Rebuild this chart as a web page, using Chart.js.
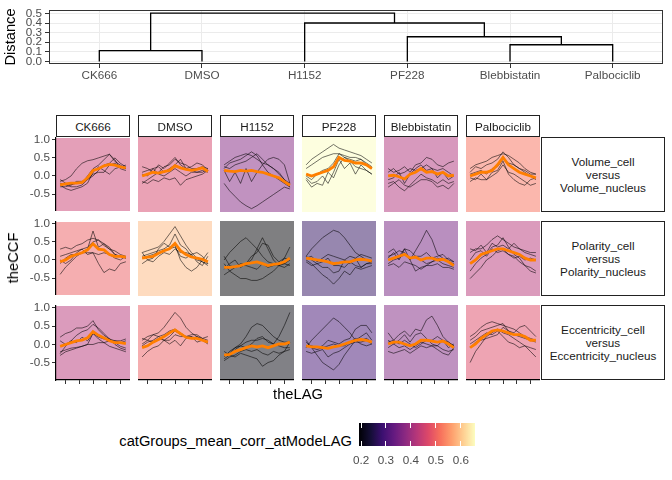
<!DOCTYPE html>
<html>
<head>
<meta charset="utf-8">
<script src="https://cdn.jsdelivr.net/npm/chart.js@4.4.1/dist/chart.umd.min.js"></script>
<style>
  body { margin: 0; background: #fff; }
  #wrap { position: relative; width: 672px; height: 480px; overflow: hidden; background: #fff;
          font-family: "Liberation Sans", Arial, sans-serif; }
  #wrap canvas { position: absolute; }
  .txt { position: absolute; white-space: nowrap; }
  .strip { position: absolute; box-sizing: border-box; border: 1.5px solid #222; background: #fff;
           display: flex; align-items: center; justify-content: center; text-align: center;
           font-size: 11.7px; color: #1a1a1a; line-height: 13px; }
</style>
</head>
<body>
<div id="wrap"></div>
<script>
// ---- data ----
const drugs = ['CK666', 'DMSO', 'H1152', 'PF228', 'Blebbistatin', 'Palbociclib'];
const pairLabels = ['Volume_cell\nversus\nVolume_nucleus', 'Polarity_cell\nversus\nPolarity_nucleus', 'Eccentricity_cell\nversus\nEccentricity_nucleus'];
const lags = [-12, -10, -8, -6, -4, -2, 0, 2, 4, 6, 8, 10, 12];
const yTicks = [-0.5, 0, 0.5, 1.0];
const xTicks = [-10, -5, 0, 5, 10];

// dendrogram (hclust style merges, negative = leaf)
const mergePairs = [[-1, -2], [-5, -6], [-4, 2], [-3, 3], [1, 4]];
const mergeHeights = [0.113, 0.174, 0.257, 0.40, 0.503];
const distTicks = [0, 0.1, 0.2, 0.3, 0.4, 0.5];

// mean corr at mode lag, per drug
const corrVolume = [0.448, 0.462, 0.369, 0.657, 0.416, 0.518];
const corrPolarity = [0.495, 0.587, 0.193, 0.272, 0.35, 0.425];
const corrEccentricity = [0.425, 0.495, 0.202, 0.295, 0.365, 0.471];
const corrMin = 0.193, corrMax = 0.657;
const legendTicks = [0.2, 0.3, 0.4, 0.5, 0.6];

// group mean CCF (orange)
const meanVolume = [
  [-0.25, -0.22, -0.2, -0.2, -0.18, -0.05, 0.15, 0.2, 0.28, 0.32, 0.3, 0.25, 0.22],
  [0.0, 0.05, 0.1, 0.08, 0.12, 0.15, 0.28, 0.22, 0.18, 0.15, 0.18, 0.22, 0.12],
  [0.15, 0.13, 0.12, 0.15, 0.13, 0.15, 0.12, 0.1, 0.05, 0.0, -0.05, -0.15, -0.25],
  [0.05, 0.0, 0.05, 0.1, 0.15, 0.25, 0.5, 0.42, 0.4, 0.35, 0.35, 0.3, 0.2],
  [0.0, 0.02, -0.02, -0.08, 0.05, 0.1, 0.2, 0.1, 0.12, 0.05, 0.1, 0.0, 0.02],
  [0.0, 0.05, 0.1, 0.1, 0.15, 0.3, 0.5, 0.3, 0.2, 0.1, 0.05, 0.0, -0.05]
];
const meanPolarity = [
  [-0.05, 0.0, 0.1, 0.15, 0.2, 0.28, 0.45, 0.3, 0.28, 0.15, 0.1, 0.1, 0.08],
  [0.05, 0.08, 0.1, 0.18, 0.25, 0.3, 0.45, 0.25, 0.15, 0.08, 0.05, 0.02, -0.05],
  [-0.2, -0.2, -0.18, -0.15, -0.1, -0.08, -0.05, -0.1, -0.15, -0.12, -0.1, -0.05, 0.05],
  [0.05, 0.03, 0.0, -0.02, -0.05, -0.1, -0.08, -0.05, -0.05, 0.0, 0.02, 0.0, -0.03],
  [0.0, 0.05, 0.1, 0.15, 0.05, 0.08, 0.0, 0.05, 0.05, 0.0, 0.02, -0.05, -0.15],
  [-0.1, 0.0, 0.15, 0.2, 0.25, 0.3, 0.3, 0.25, 0.2, 0.15, 0.05, 0.0, 0.0]
];
const meanEccentricity = [
  [-0.05, 0.0, 0.05, 0.1, 0.12, 0.18, 0.35, 0.25, 0.18, 0.1, 0.05, 0.05, 0.02],
  [-0.1, -0.05, 0.05, 0.12, 0.2, 0.3, 0.38, 0.28, 0.18, 0.15, 0.15, 0.1, 0.05],
  [-0.3, -0.28, -0.2, -0.15, -0.1, -0.05, -0.08, -0.05, -0.1, -0.05, 0.0, 0.0, 0.05],
  [-0.05, -0.08, -0.08, -0.1, -0.12, -0.08, -0.05, 0.0, 0.05, 0.1, 0.12, 0.1, 0.05],
  [0.0, 0.05, 0.05, 0.0, -0.05, 0.0, 0.1, 0.1, 0.08, 0.05, 0.08, 0.0, -0.1],
  [-0.1, 0.0, 0.15, 0.25, 0.35, 0.38, 0.35, 0.3, 0.25, 0.25, 0.2, 0.1, 0.1]
];

// single cell CCF traces (black)
const tracesVolume = [
  [[-0.15, -0.1, 0.0, 0.2, 0.35, 0.42, 0.45, 0.5, 0.55, 0.6, 0.4, 0.3, 0.2],
   [-0.3, -0.3, -0.25, -0.2, -0.2, 0.0, 0.2, 0.3, 0.45, 0.6, 0.45, 0.2, 0.15],
   [-0.2, -0.25, -0.3, -0.3, -0.25, -0.1, 0.05, 0.1, 0.1, 0.3, 0.35, 0.25, 0.2],
   [-0.25, -0.35, -0.4, -0.35, -0.3, -0.2, 0.1, 0.25, 0.15, 0.05, 0.2, 0.25, 0.3],
   [-0.1, -0.2, -0.25, -0.15, -0.15, -0.1, 0.0, 0.15, 0.3, 0.35, 0.5, 0.35, 0.25]],
  [[0.25, 0.2, 0.1, 0.3, 0.2, 0.35, 0.5, 0.3, 0.2, 0.25, 0.35, 0.3, 0.15],
   [-0.2, -0.1, 0.0, 0.1, 0.25, 0.3, 0.45, 0.35, 0.3, 0.2, 0.2, 0.25, 0.2],
   [0.1, 0.15, 0.2, 0.05, 0.0, 0.1, 0.2, 0.1, 0.0, 0.1, 0.1, 0.15, 0.1],
   [-0.15, -0.2, -0.1, -0.15, -0.05, -0.1, -0.05, -0.25, -0.1, -0.05, 0.0, 0.05, 0.15],
   [0.05, 0.0, 0.2, 0.25, 0.1, 0.2, 0.3, 0.45, 0.2, 0.15, 0.1, 0.1, 0.2]],
  [[0.3, 0.4, 0.5, 0.55, 0.6, 0.55, 0.45, 0.35, 0.3, 0.2, 0.1, -0.1, -0.3],
   [0.2, 0.35, 0.4, 0.45, 0.55, 0.65, 0.55, 0.3, 0.1, 0.0, -0.1, -0.2, -0.3],
   [0.15, -0.15, 0.1, -0.2, 0.2, -0.15, 0.1, 0.3, 0.45, 0.5, 0.45, 0.3, -0.2],
   [-0.2, -0.4, -0.55, -0.7, -0.8, -0.88, -0.8, -0.7, -0.6, -0.5, -0.4, -0.3, -0.35],
   [0.25, 0.2, 0.3, 0.35, 0.4, 0.5, 0.6, 0.45, 0.3, 0.2, 0.05, -0.1, -0.2]],
  [[0.3, 0.45, 0.55, 0.65, 0.75, 0.85, 0.75, 0.7, 0.65, 0.6, 0.55, 0.45, 0.35],
   [0.2, 0.3, 0.4, 0.5, 0.55, 0.6, 0.6, 0.55, 0.5, 0.5, 0.45, 0.35, 0.25],
   [-0.05, -0.2, -0.15, 0.0, -0.2, 0.1, 0.45, 0.2, 0.35, 0.05, 0.3, 0.15, 0.05],
   [-0.1, -0.3, -0.2, -0.25, 0.1, -0.05, 0.3, 0.5, 0.4, 0.25, 0.2, 0.15, 0.05],
   [0.0, -0.1, 0.05, 0.15, 0.2, 0.35, 0.6, 0.5, 0.45, 0.4, 0.45, 0.3, 0.2]],
  [[0.2, 0.1, 0.15, 0.25, 0.1, 0.3, 0.35, 0.5, 0.45, 0.3, 0.25, 0.35, 0.4],
   [-0.1, -0.05, 0.1, -0.2, 0.05, 0.2, 0.3, 0.15, 0.2, -0.05, 0.1, -0.1, 0.0],
   [-0.2, -0.15, -0.3, -0.4, -0.25, -0.1, 0.05, -0.05, -0.1, -0.2, -0.1, -0.2, -0.15],
   [0.1, 0.2, 0.05, 0.1, 0.2, 0.15, 0.2, 0.3, 0.2, 0.15, 0.2, 0.1, 0.0],
   [-0.3, -0.2, -0.1, -0.25, -0.3, -0.2, -0.1, -0.1, -0.15, -0.3, -0.25, -0.35, -0.2]],
  [[0.2, 0.3, 0.35, 0.4, 0.5, 0.55, 0.6, 0.55, 0.45, 0.35, 0.2, 0.1, 0.05],
   [0.1, 0.25, 0.2, 0.3, 0.35, 0.45, 0.65, 0.5, 0.3, 0.2, 0.1, 0.0, -0.1],
   [-0.15, -0.05, -0.1, -0.1, 0.0, 0.1, 0.3, 0.1, 0.05, -0.05, -0.15, -0.25, -0.2],
   [-0.05, -0.1, 0.05, -0.1, 0.1, 0.15, 0.4, 0.05, -0.1, -0.2, -0.25, -0.1, -0.05],
   [0.05, 0.1, 0.15, 0.05, 0.2, 0.25, 0.45, 0.35, 0.3, 0.2, 0.15, 0.05, 0.05]]
];
const tracesPolarity = [
  [[0.3, 0.35, 0.3, 0.4, 0.45, 0.55, 0.6, 0.55, 0.4, 0.3, 0.25, 0.15, 0.1],
   [-0.4, -0.2, -0.05, 0.1, 0.2, 0.3, 0.8, 0.35, 0.45, 0.3, 0.15, 0.1, 0.05],
   [0.0, -0.1, 0.0, 0.2, 0.3, 0.15, 0.2, -0.1, -0.35, -0.25, -0.3, -0.1, -0.05],
   [0.1, 0.15, 0.2, 0.25, 0.3, 0.35, 0.5, 0.55, 0.45, 0.35, 0.15, 0.1, 0.05],
   [-0.1, 0.05, 0.15, 0.15, 0.2, 0.2, 0.2, 0.15, 0.2, 0.15, 0.05, 0.0, 0.1]],
  [[0.2, 0.25, 0.3, 0.35, 0.5, 0.7, 0.9, 0.65, 0.4, 0.2, 0.05, -0.05, -0.15],
   [0.1, 0.15, 0.2, 0.25, 0.3, 0.4, 0.7, 0.4, 0.3, 0.1, 0.0, -0.05, -0.1],
   [0.2, 0.0, 0.05, 0.3, 0.45, 0.35, 0.4, 0.0, -0.2, -0.3, -0.2, 0.0, 0.2],
   [0.05, 0.1, 0.15, 0.2, 0.25, 0.3, 0.35, 0.1, 0.05, 0.15, -0.05, -0.15, 0.1],
   [-0.1, 0.0, -0.05, 0.1, 0.2, 0.15, 0.3, 0.2, 0.2, 0.15, 0.2, 0.1, -0.1]],
  [[0.0, 0.2, 0.35, 0.5, 0.6, 0.45, 0.3, 0.1, -0.05, -0.1, -0.15, -0.2, -0.1],
   [-0.1, -0.3, -0.4, -0.5, -0.5, -0.55, -0.55, -0.5, -0.4, -0.3, -0.15, 0.05, 0.35],
   [-0.25, -0.1, 0.0, -0.2, -0.1, 0.1, 0.2, 0.45, 0.4, 0.1, -0.05, 0.05, 0.0],
   [-0.4, -0.3, -0.2, -0.1, -0.1, 0.0, 0.3, 0.6, 0.3, 0.0, -0.15, -0.1, -0.15],
   [0.1, -0.15, -0.2, -0.15, -0.15, -0.2, -0.25, -0.1, -0.2, -0.15, -0.1, -0.1, 0.0]],
  [[0.1, 0.3, 0.45, 0.6, 0.7, 0.8, 0.75, 0.6, 0.4, 0.2, 0.1, 0.0, -0.05],
   [0.0, -0.1, -0.25, -0.4, -0.5, -0.65, -0.5, -0.3, -0.4, -0.2, -0.25, -0.2, -0.15],
   [0.1, 0.0, -0.1, -0.2, -0.2, -0.35, -0.3, 0.0, -0.1, 0.05, -0.2, -0.1, -0.05],
   [-0.05, -0.15, -0.1, -0.05, 0.05, -0.15, -0.15, -0.2, -0.05, -0.15, -0.2, -0.1, -0.1],
   [0.05, 0.1, -0.05, 0.05, 0.15, 0.1, 0.05, 0.0, 0.1, 0.05, 0.15, 0.1, 0.05]],
  [[0.2, 0.3, 0.1, 0.3, 0.0, 0.25, 0.5, 0.8, 0.55, 0.15, 0.05, -0.05, -0.1],
   [0.1, 0.15, 0.25, 0.2, 0.0, -0.3, -0.2, -0.15, -0.05, 0.0, -0.1, -0.15, -0.2],
   [-0.1, 0.0, 0.05, 0.15, 0.05, 0.1, 0.0, -0.1, -0.05, 0.05, 0.0, 0.05, -0.05],
   [0.05, 0.2, 0.0, 0.3, 0.25, 0.1, 0.1, 0.2, 0.05, 0.1, 0.15, 0.0, -0.05],
   [-0.15, -0.1, -0.2, -0.05, -0.1, -0.15, -0.25, -0.15, -0.15, -0.1, -0.2, -0.2, -0.25]],
  [[0.2, 0.3, 0.3, 0.4, 0.55, 0.65, 0.55, 0.45, 0.35, 0.3, 0.25, 0.2, 0.2],
   [-0.3, -0.1, 0.05, 0.15, 0.35, 0.4, 0.6, 0.35, 0.15, 0.05, -0.15, -0.3, -0.35],
   [-0.5, -0.35, -0.2, 0.0, 0.1, 0.25, 0.3, 0.15, 0.1, -0.05, -0.15, -0.2, -0.3],
   [0.3, 0.25, 0.4, 0.2, 0.45, 0.35, 0.4, 0.3, 0.45, 0.3, 0.2, 0.15, 0.1],
   [0.0, 0.2, 0.25, 0.1, 0.3, 0.2, 0.25, 0.15, 0.05, 0.1, 0.0, 0.05, 0.0]]
];
const tracesEccentricity = [
  [[0.2, 0.3, 0.35, 0.45, 0.45, 0.5, 0.65, 0.4, 0.25, 0.15, 0.1, 0.05, 0.1],
   [-0.25, -0.05, 0.1, 0.25, 0.35, 0.4, 0.55, 0.45, 0.3, 0.15, 0.0, -0.1, -0.15],
   [-0.2, -0.15, -0.1, -0.08, -0.05, 0.0, 0.0, 0.05, 0.05, 0.1, 0.1, 0.1, 0.15],
   [0.1, 0.0, 0.1, 0.05, 0.2, 0.1, 0.3, 0.2, 0.15, 0.15, 0.05, -0.05, -0.1],
   [-0.3, -0.2, -0.15, -0.1, -0.05, 0.0, 0.3, 0.15, 0.05, -0.05, -0.1, -0.15, -0.2]],
  [[0.1, 0.2, 0.25, 0.3, 0.45, 0.65, 0.85, 0.7, 0.45, 0.3, 0.2, 0.1, 0.05],
   [-0.05, 0.05, 0.1, 0.2, 0.25, 0.35, 0.4, 0.3, 0.2, 0.2, 0.15, 0.1, 0.05],
   [0.15, 0.1, 0.25, 0.2, 0.1, 0.0, 0.1, -0.05, 0.15, 0.2, 0.05, 0.1, 0.0],
   [-0.35, -0.2, -0.1, -0.05, 0.1, 0.1, 0.25, 0.2, 0.2, 0.15, 0.2, 0.15, 0.2],
   [0.0, 0.1, 0.05, 0.15, 0.1, 0.2, 0.35, 0.25, 0.2, 0.25, 0.25, 0.15, 0.1]],
  [[-0.35, -0.2, -0.1, 0.0, 0.2, 0.45, 0.55, 0.5, 0.35, 0.2, 0.1, 0.05, 0.05],
   [-0.3, -0.25, -0.1, -0.05, -0.1, 0.0, 0.15, 0.2, 0.05, 0.0, 0.2, 0.5, 0.85],
   [-0.45, -0.35, -0.3, -0.2, -0.15, -0.2, -0.15, -0.25, -0.3, -0.2, -0.25, -0.2, -0.15],
   [-0.2, -0.3, -0.35, -0.25, -0.3, -0.35, -0.4, -0.6, -0.5, -0.45, -0.3, -0.2, 0.05],
   [-0.4, -0.3, -0.15, -0.05, 0.05, 0.1, 0.1, 0.15, 0.1, 0.0, -0.05, -0.1, -0.1]],
  [[-0.1, 0.1, 0.25, 0.4, 0.55, 0.7, 0.6, 0.45, 0.3, 0.1, 0.0, -0.05, 0.0],
   [0.1, -0.1, -0.3, -0.5, -0.6, -0.7, -0.55, -0.3, -0.1, 0.1, 0.2, 0.3, 0.1],
   [-0.05, -0.05, -0.1, -0.05, 0.1, 0.05, 0.0, 0.1, 0.15, 0.4, 0.5, 0.5, 0.3],
   [-0.2, -0.25, -0.2, -0.15, -0.35, -0.25, -0.2, -0.1, 0.0, 0.05, 0.05, 0.1, 0.0],
   [0.05, -0.1, -0.15, -0.1, -0.05, 0.0, -0.05, -0.05, 0.05, 0.15, 0.1, 0.15, 0.05]],
  [[0.3, 0.1, 0.25, 0.35, 0.2, 0.4, 0.35, 0.65, 0.75, 0.5, 0.2, 0.05, -0.05],
   [0.1, 0.0, 0.1, 0.25, 0.05, 0.25, 0.3, 0.15, 0.0, -0.05, 0.1, -0.1, 0.0],
   [-0.2, -0.25, -0.2, -0.15, -0.25, -0.15, -0.05, -0.1, -0.05, -0.15, -0.25, -0.3, -0.1],
   [0.05, 0.1, 0.0, 0.1, 0.0, -0.1, 0.0, 0.1, 0.1, 0.2, 0.1, 0.05, -0.05],
   [-0.1, 0.0, -0.1, -0.05, -0.15, -0.05, 0.05, 0.0, -0.05, -0.05, -0.15, -0.2, -0.15]],
  [[0.2, 0.3, 0.45, 0.55, 0.6, 0.55, 0.5, 0.45, 0.4, 0.3, 0.2, 0.15, 0.1],
   [-0.5, -0.2, 0.0, 0.2, 0.3, 0.4, 0.3, 0.25, 0.15, 0.05, -0.05, -0.2, -0.35],
   [0.1, 0.2, 0.35, 0.4, 0.45, 0.5, 0.55, 0.35, 0.3, 0.45, 0.5, 0.35, 0.2],
   [0.0, 0.1, 0.2, 0.3, 0.25, 0.35, 0.2, 0.05, 0.0, -0.1, -0.05, -0.1, -0.15],
   [-0.1, 0.05, 0.1, 0.15, 0.2, 0.25, 0.45, 0.35, 0.25, 0.2, 0.15, 0.1, 0.05]]
];

const magmaStops = ['#000004', '#140E36', '#3B0F70', '#641A80', '#8C2981', '#B73779',
                    '#DE4968', '#F7705C', '#FE9F6D', '#FECF92', '#FCFDBF'];

// ---- helpers ----
const wrap = document.getElementById('wrap');
Chart.defaults.font.family = '"Liberation Sans", Arial, sans-serif';
Chart.defaults.animation = false;

function hexRgb(h) {
  return [1, 3, 5].map(i => parseInt(h.substr(i, 2), 16));
}
function magma(v) {
  let t = (v - corrMin) / (corrMax - corrMin);
  t = Math.max(0, Math.min(1, t));
  const p = t * (magmaStops.length - 1);
  const i = Math.min(Math.floor(p), magmaStops.length - 2);
  const f = p - i;
  const a = hexRgb(magmaStops[i]), b = hexRgb(magmaStops[i + 1]);
  return a.map((c, k) => Math.round(c + (b[k] - c) * f));
}

function addCanvas(left, top, w, h) {
  const c = document.createElement('canvas');
  c.width = w; c.height = h;
  c.style.left = left + 'px'; c.style.top = top + 'px';
  c.style.width = w + 'px'; c.style.height = h + 'px';
  wrap.appendChild(c);
  return c;
}
function addText(txt, css) {
  const d = document.createElement('div');
  d.className = 'txt';
  d.textContent = txt;
  Object.assign(d.style, css);
  wrap.appendChild(d);
  return d;
}

const panelBg = {
  id: 'panelBg',
  beforeDraw(chart, args, opts) {
    const { ctx, chartArea: a } = chart;
    ctx.save();
    ctx.fillStyle = opts.color;
    ctx.fillRect(a.left, a.top, a.right - a.left, a.bottom - a.top);
    ctx.restore();
  }
};
const frame = {
  id: 'frame',
  afterDraw(chart) {
    const { ctx, chartArea: a } = chart;
    ctx.save();
    ctx.strokeStyle = '#333333';
    ctx.lineWidth = 1;
    ctx.strokeRect(Math.round(a.left) + 0.5, Math.round(a.top) + 0.5,
                   Math.round(a.right - a.left) - 1, Math.round(a.bottom - a.top) - 1);
    ctx.restore();
  }
};

// ---- dendrogram ----
const nodeX = [], nodeH = [];
function childPos(k) {
  return k < 0 ? [-k, 0] : [nodeX[k - 1], nodeH[k - 1]];
}
const dendroSets = mergePairs.map((m, i) => {
  const [xa, ha] = childPos(m[0]);
  const [xb, hb] = childPos(m[1]);
  const h = mergeHeights[i];
  nodeX.push((xa + xb) / 2);
  nodeH.push(h);
  return {
    data: [{ x: xa, y: ha }, { x: xa, y: h }, { x: xb, y: h }, { x: xb, y: hb }],
    borderColor: '#000', borderWidth: 1.3, pointRadius: 0, showLine: true, fill: false
  };
});

new Chart(addCanvas(0, 0, 672, 85), {
  type: 'scatter',
  data: { datasets: dendroSets },
  plugins: [frame],
  options: {
    responsive: false,
    layout: { padding: { top: 7, right: 9, left: 0, bottom: 0 } },
    plugins: { legend: { display: false }, tooltip: { enabled: false } },
    scales: {
      x: {
        type: 'linear', min: 0.51, max: 6.49,
        afterBuildTicks: s => { s.ticks = drugs.map((d, i) => ({ value: i + 1 })); },
        afterFit: s => { s.height = 21; },
        ticks: { callback: v => drugs[v - 1], color: '#4d4d4d', font: { size: 11.7 }, padding: 1, autoSkip: false, maxRotation: 0 },
        grid: { color: '#ebebeb', tickColor: '#333333', tickLength: 4, lineWidth: 1 },
        border: { display: false }
      },
      y: {
        min: -0.026, max: 0.535,
        afterBuildTicks: s => { s.ticks = distTicks.map(v => ({ value: v })); },
        afterFit: s => { s.width = 49; },
        ticks: { callback: v => v.toFixed(1), color: '#4d4d4d', font: { size: 11.7 }, padding: 3, autoSkip: false },
        grid: { color: '#ebebeb', tickColor: '#333333', tickLength: 4, lineWidth: 1 },
        border: { display: false },
        title: { display: true, text: 'Distance', color: '#000', font: { size: 14.7 }, padding: { top: 2, bottom: 2 } }
      }
    }
  }
});

// ---- facet grid ----
const colLeft = [56, 138, 220, 302, 384, 466];
const rowTop = [137, 221, 305];
const panelW = 74, panelH = 75, yAxisW = 56, pad = 8;
const meansByRow = [meanVolume, meanPolarity, meanEccentricity];
const tracesByRow = [tracesVolume, tracesPolarity, tracesEccentricity];
const corrByRow = [corrVolume, corrPolarity, corrEccentricity];

rowTop.forEach((top, r) => {
  drugs.forEach((drug, c) => {
    const first = c === 0, last = r === rowTop.length - 1;
    const left = first ? colLeft[c] - yAxisW : colLeft[c];
    const w = panelW + (first ? yAxisW : 0);
    const h = pad + panelH + (last ? 6 : 0) + pad;
    const rgb = magma(corrByRow[r][c]);
    const sets = [{
      data: lags.map((l, i) => ({ x: l, y: meansByRow[r][c][i] })),
      borderColor: '#ff7f00', borderWidth: 2.8, pointRadius: 0
    }];
    tracesByRow[r][c].forEach(tr => sets.push({
      data: lags.map((l, i) => ({ x: l, y: tr[i] })),
      borderColor: 'rgba(0,0,0,0.55)', borderWidth: 1, pointRadius: 0
    }));
    new Chart(addCanvas(left, top - pad, w, h), {
      type: 'line',
      data: { datasets: sets },
      plugins: [panelBg],
      options: {
        responsive: false,
        layout: { padding: { top: pad, left: 0, right: 0, bottom: pad } },
        plugins: {
          legend: { display: false }, tooltip: { enabled: false },
          panelBg: { color: `rgba(${rgb[0]},${rgb[1]},${rgb[2]},0.5)` }
        },
        scales: {
          x: {
            type: 'linear', min: -13.5, max: 13.5, display: last,
            afterBuildTicks: s => { s.ticks = xTicks.map(v => ({ value: v })); },
            afterFit: s => { s.height = last ? 6 : 0; },
            ticks: { callback: () => '', padding: 0, autoSkip: false, maxRotation: 0 },
            grid: { drawOnChartArea: false, tickLength: 4, color: '#333333', tickColor: '#333333' },
            border: { display: true, color: '#000', width: 1.2 }
          },
          y: {
            min: -0.97, max: 1.05, display: first,
            afterBuildTicks: s => { s.ticks = yTicks.map(v => ({ value: v })); },
            afterFit: s => { s.width = first ? yAxisW : 0; },
            ticks: { callback: v => v.toFixed(1), color: '#4d4d4d', font: { size: 11.7 }, padding: 2, autoSkip: false },
            grid: { drawOnChartArea: false, tickLength: 4, color: '#333333', tickColor: '#333333' },
            border: { display: true, color: '#000', width: 1.2 }
          }
        }
      }
    });
  });
});

// strips
drugs.forEach((d, c) => {
  const s = document.createElement('div');
  s.className = 'strip';
  Object.assign(s.style, { left: colLeft[c] + 'px', top: '115px', width: panelW + 'px', height: '22px' });
  s.textContent = d;
  wrap.appendChild(s);
});
pairLabels.forEach((p, r) => {
  const s = document.createElement('div');
  s.className = 'strip';
  Object.assign(s.style, { left: '541px', top: rowTop[r] + 'px', width: '124px', height: panelH + 'px', whiteSpace: 'pre' });
  s.textContent = p;
  wrap.appendChild(s);
});

// axis titles
addText('theCCF', { left: '13px', top: '258px', fontSize: '14.7px', color: '#000',
  transform: 'translate(-50%,-50%) rotate(-90deg)' });
addText('theLAG', { left: '298px', top: '394px', fontSize: '14.7px', color: '#000',
  transform: 'translate(-50%,-50%)' });

// ---- colour bar legend ----
const barL = 359.3, barW = 115.7, barT = 423, barH = 23;
addText('catGroups_mean_corr_atModeLAG', { right: (672 - 352) + 'px', top: '441px', fontSize: '14.7px',
  color: '#000', transform: 'translateY(-50%)' });
const bar = document.createElement('div');
Object.assign(bar.style, { position: 'absolute', left: barL + 'px', top: barT + 'px', width: barW + 'px', height: barH + 'px',
  background: 'linear-gradient(to right,' + magmaStops.join(',') + ')' });
wrap.appendChild(bar);
legendTicks.forEach(v => {
  const x = barL + (v - corrMin) / (corrMax - corrMin) * barW;
  [barT, barT + barH - 4.6].forEach(ty => {
    const t = document.createElement('div');
    Object.assign(t.style, { position: 'absolute', left: (x - 0.5) + 'px', top: ty + 'px', width: '1px', height: '4.6px', background: '#fff' });
    wrap.appendChild(t);
  });
  addText(v.toFixed(1), { left: x + 'px', top: '459px', fontSize: '11.7px', color: '#4d4d4d', transform: 'translate(-50%,-50%)' });
});
</script>
</body>
</html>
